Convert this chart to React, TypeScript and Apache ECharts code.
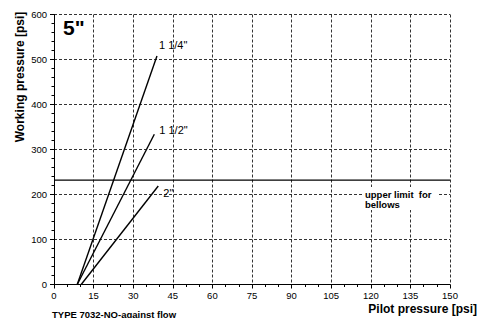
import React, { useEffect, useRef } from "react";
import * as echarts from "echarts";

const xTicks = [0, 15, 30, 45, 60, 75, 90, 105, 120, 135, 150];
const yTicks = [0, 100, 200, 300, 400, 500, 600];
const seriesNames = ['1 1/4"', '1 1/2"', '2"'];
const line114 = [[8.8, 0], [39.0, 508]];
const line112 = [[8.8, 0], [38.0, 334]];
const line2 = [[10.3, 0], [39.5, 219]];
const upperLimit = 232;
const limitRange = [0, 150];

const FONT = "Liberation Sans, Arial, sans-serif";

export default function App() {
  const ref = useRef<HTMLDivElement>(null);
  useEffect(() => {
    if (!ref.current) return;
    const chart = echarts.init(ref.current, null, { renderer: "svg" });
    const lines = [line114, line112, line2];
    const labelOffsets = [[2, -11], [5, -4], [5, 7]];
    const series: any[] = lines.map((pts, i) => ({
      type: "line",
      name: seriesNames[i],
      symbol: "circle",
      symbolSize: 0,
      showSymbol: true,
      itemStyle: { color: "#000" },
      lineStyle: { color: "#000", width: 1.4 },
      data: pts.map((p, j) =>
        j === pts.length - 1
          ? {
              value: p,
              label: {
                show: true,
                position: "right",
                distance: 0,
                offset: labelOffsets[i],
                formatter: seriesNames[i],
                color: "#000",
                fontSize: 11,
                fontFamily: FONT,
              },
            }
          : { value: p, label: { show: false } }
      ),
    }));
    series.push({
      type: "line",
      name: "upper limit",
      symbol: "none",
      lineStyle: { color: "#000", width: 1.4 },
      data: limitRange.map((x) => [x, upperLimit]),
    });
    chart.setOption({
      animation: false,
      backgroundColor: "#fff",
      grid: { left: 54, right: 29, top: 14.5, bottom: 33.5, containLabel: false },
      xAxis: {
        type: "value",
        min: xTicks[0],
        max: xTicks[xTicks.length - 1],
        interval: 15,
        axisLine: { lineStyle: { color: "#000", width: 1 } },
        axisTick: { show: true, length: 4, lineStyle: { color: "#000" } },
        minorTick: { show: true, splitNumber: 3, length: 2.5, lineStyle: { color: "#000" } },
        axisLabel: { color: "#000", fontSize: 9.5, fontFamily: FONT, margin: 6 },
        splitLine: { show: true, lineStyle: { color: "#333", type: [3, 2], width: 1 } },
      },
      yAxis: {
        type: "value",
        min: yTicks[0],
        max: yTicks[yTicks.length - 1],
        interval: 100,
        axisLine: { show: true, lineStyle: { color: "#000", width: 1 } },
        axisTick: { show: true, length: 4, lineStyle: { color: "#000" } },
        minorTick: { show: true, splitNumber: 5, length: 2.5, lineStyle: { color: "#000" } },
        axisLabel: { color: "#000", fontSize: 9.5, fontFamily: FONT, margin: 7 },
        splitLine: { show: true, lineStyle: { color: "#333", type: [3, 2], width: 1 } },
      },
      series,
      graphic: [
        {
          type: "text",
          left: 63,
          top: 17,
          style: { text: '5"', fontSize: 21, fontWeight: "bold", fontFamily: FONT, fill: "#000" },
        },
        {
          type: "text",
          x: 20,
          y: 77,
          rotation: Math.PI / 2,
          style: {
            text: "Working pressure [psi]",
            fontSize: 12,
            fontWeight: "bold",
            fontFamily: FONT,
            fill: "#000",
            align: "center",
            verticalAlign: "middle",
          },
        },
        {
          type: "rect",
          shape: { x: 362, y: 187, width: 76, height: 23 },
          style: { fill: "#fff" },
          z: 100,
        },
        {
          type: "text",
          x: 365,
          y: 189,
          z: 101,
          style: {
            text: "upper limit  for\nbellows",
            fontSize: 9.5,
            fontWeight: "bold",
            fontFamily: FONT,
            fill: "#000",
            lineHeight: 10.5,
          },
        },
        {
          type: "text",
          x: 477,
          y: 309,
          style: {
            text: "Pilot pressure [psi]",
            fontSize: 12,
            fontWeight: "bold",
            fontFamily: FONT,
            fill: "#000",
            align: "right",
            verticalAlign: "middle",
          },
        },
        {
          type: "text",
          x: 52,
          y: 314,
          style: {
            text: "TYPE 7032-NO-against flow",
            fontSize: 9.5,
            fontWeight: "bold",
            fontFamily: FONT,
            fill: "#000",
            verticalAlign: "middle",
          },
        },
      ],
    });
    return () => chart.dispose();
  }, []);
  return (
    <div
      ref={ref}
      style={{ position: "fixed", left: 0, top: 0, width: 479, height: 318, background: "#fff" }}
    />
  );
}
